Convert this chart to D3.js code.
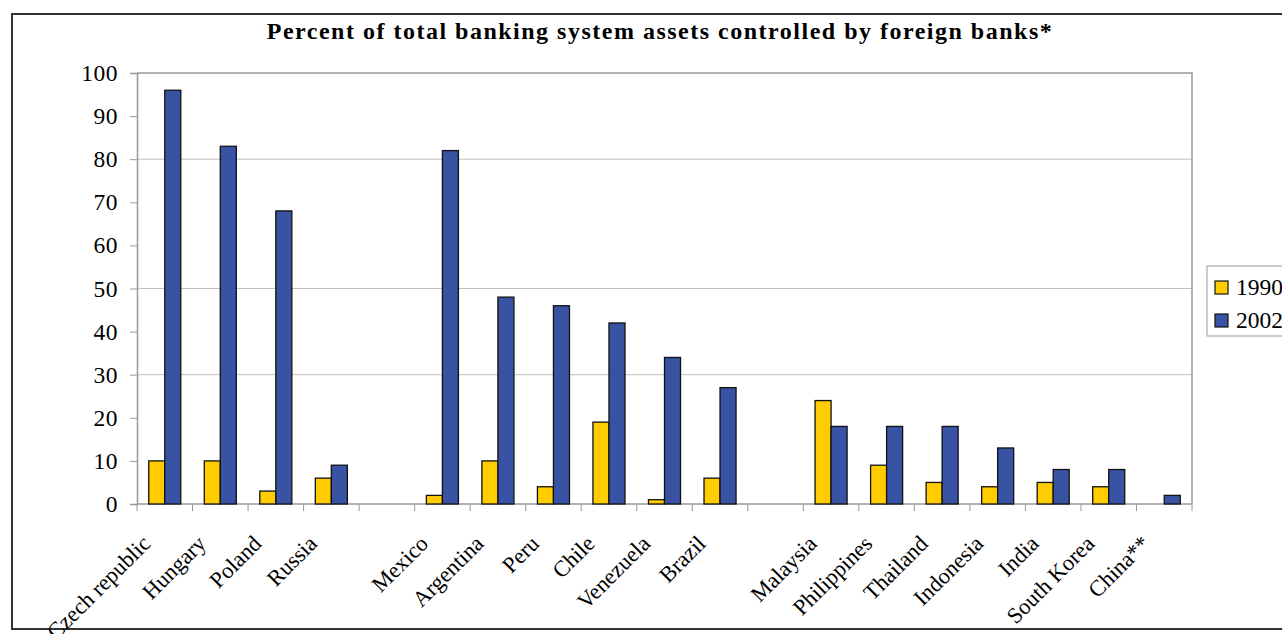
<!DOCTYPE html>
<html><head><meta charset="utf-8">
<script src="https://cdn.jsdelivr.net/npm/d3@7"></script>
<style>body{margin:0;background:#fff;} svg{display:block;} text{font-family:"Liberation Serif","Times New Roman",serif;}</style>
</head><body>
<svg id="c" width="1282" height="634"></svg>
<script>
const categories = ["Czech republic","Hungary","Poland","Russia","","Mexico","Argentina","Peru","Chile","Venezuela","Brazil","","Malaysia","Philippines","Thailand","Indonesia","India","South Korea","China**"];
const series = ["1990","2002"];
const values1990 = [10,10,3,6,null,2,10,4,19,1,6,null,24,9,5,4,5,4,0];
const values2002 = [96,83,68,9,null,82,48,46,42,34,27,null,18,18,18,13,8,8,2];
const yTicks = [0,10,20,30,40,50,60,70,80,90,100];
const gridValues = [30,50,80];
const colors = {"1990":"#FFCC00","2002":"#3853A4"};

const svg = d3.select("#c");
const L=137, R=1192, T=73, B=504;

// outer border
svg.append("rect").attr("x",12).attr("y",14).attr("width",1300).attr("height",615)
  .attr("fill","none").attr("stroke","#333").attr("stroke-width",2);

const keys = categories.map((c,i)=>i);
const x = d3.scaleBand().domain(keys).range([L,R]).padding(0);
const bw = x.bandwidth();
const groupW = bw*0.577;
const x1 = d3.scaleBand().domain(series).range([(bw-groupW)/2,(bw+groupW)/2]).padding(0);
const y = d3.scaleLinear().domain([0,100]).range([B,T]);

// gridlines
svg.append("g").selectAll("line").data(gridValues).join("line")
  .attr("x1",L).attr("x2",R).attr("y1",d=>y(d)).attr("y2",d=>y(d))
  .attr("stroke","#c0c0c0").attr("stroke-width",1);
// plot border top/right
svg.append("path").attr("d",`M${L},${T}H${R}V${B}`).attr("fill","none").attr("stroke","#999").attr("stroke-width",1.5);

// y axis
const yAxis = d3.axisLeft(y).tickValues(yTicks).tickSize(7).tickPadding(12).tickFormat(d3.format("d"));
const gy = svg.append("g").attr("transform",`translate(${L},0)`).call(yAxis);
gy.select(".domain").attr("stroke","#999").attr("stroke-width",1.5);
gy.selectAll(".tick line").attr("stroke","#999");
gy.selectAll(".tick text").attr("font-size",23.5).attr("fill","#000").attr("font-family","Liberation Serif").attr("letter-spacing",0.5);

// x axis
svg.append("line").attr("x1",L).attr("x2",R).attr("y1",B).attr("y2",B).attr("stroke","#999").attr("stroke-width",1.5);
svg.append("g").selectAll("line").data(d3.range(categories.length+1)).join("line")
  .attr("x1",d=>L+d*bw).attr("x2",d=>L+d*bw).attr("y1",B).attr("y2",B+7)
  .attr("stroke","#999").attr("stroke-width",1);

// bars
const data = [];
categories.forEach((c,i)=>{
  if(values1990[i]!==null) data.push({i,s:"1990",v:values1990[i]});
  if(values2002[i]!==null) data.push({i,s:"2002",v:values2002[i]});
});
svg.append("g").selectAll("rect").data(data.filter(d=>d.v>0)).join("rect")
  .attr("x",d=>x(d.i)+x1(d.s)).attr("width",x1.bandwidth())
  .attr("y",d=>y(d.v)).attr("height",d=>B-y(d.v))
  .attr("fill",d=>colors[d.s]).attr("stroke","#111").attr("stroke-width",1.3);

// x labels
svg.append("g").selectAll("text").data(categories.map((c,i)=>({c,i})).filter(d=>d.c)).join("text")
  .attr("transform",d=>`translate(${x(d.i)+bw/2-13},${545}) rotate(-45)`)
  .attr("text-anchor","end").attr("font-size",22.5).attr("fill","#000").text(d=>d.c);

// title
svg.append("text").attr("x",660).attr("y",39).attr("text-anchor","middle")
  .attr("font-size",24).attr("letter-spacing",1.5).attr("font-weight","bold").text("Percent of total banking system assets controlled by foreign banks*");

// legend
const lg = svg.append("g");
lg.append("rect").attr("x",1207).attr("y",266).attr("width",120).attr("height",70)
  .attr("fill","#fff").attr("stroke","#999").attr("stroke-width",1);
series.forEach((s,k)=>{
  const yy = 281 + k*33;
  lg.append("rect").attr("x",1215).attr("y",yy).attr("width",13).attr("height",13)
    .attr("fill",colors[s]).attr("stroke","#111").attr("stroke-width",1.2);
  lg.append("text").attr("x",1236).attr("y",yy+14).attr("font-size",23.5).text(s);
});
</script>
</body></html>
